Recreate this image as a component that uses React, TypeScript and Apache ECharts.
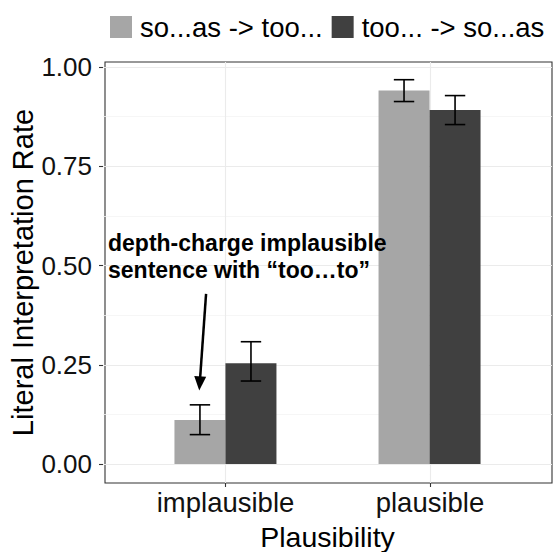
import React, { useEffect, useRef } from "react";
import * as echarts from "echarts";

// ---- data ----
const categories = ["implausible", "plausible"];
const seriesNames = ["so...as -> too...", "too... -> so...as"];
const soAsMean = [0.111, 0.941];
const soAsLower = [0.074, 0.913];
const soAsUpper = [0.149, 0.968];
const tooMean = [0.254, 0.892];
const tooLower = [0.209, 0.855];
const tooUpper = [0.308, 0.928];
const yTicksMax = 1;
const yTickStep = 0.25;
const xTitle = "Plausibility";
const yTitle = "Literal Interpretation Rate";
const annotationText = "depth-charge implausible\nsentence with \u201Ctoo\u2026to\u201D";
// arrow (data coords): start -> end
const arrowFrom = [0.905, 0.4285];
const arrowTo = [0.874, 0.203];

const FONT = '"Liberation Sans", Arial, Helvetica, sans-serif';
const COLORS = ["#A6A6A6", "#404040"];
const DODGE = 0.5; // total dodge width in category units
const CAP = 0.05; // half width of error bar caps in category units

export default function App() {
  const ref = useRef<HTMLDivElement>(null);
  useEffect(() => {
    if (!ref.current) return;
    const chart = echarts.init(ref.current, null, { renderer: "svg" });

    const errRows: number[][] = [];
    categories.forEach((_, i) => {
      errRows.push([i + 1, soAsLower[i], soAsUpper[i], 0]);
      errRows.push([i + 1, tooLower[i], tooUpper[i], 1]);
    });

    const option: any = {
      animation: false,
      textStyle: { fontFamily: FONT },
      legend: {
        left: 110,
        top: 13,
        width: 443,
        padding: 0,
        icon: "rect",
        itemWidth: 22,
        itemHeight: 22,
        itemGap: 9,
        data: seriesNames,
        textStyle: { fontSize: 27.5, color: "#000", fontFamily: FONT, padding: [0, 0, 0, 3] },
      },
      grid: [
        { left: 103, right: 1, top: 67, bottom: 88 },
        { left: 225.5, right: 123, top: 62, bottom: 69 },
        {
          left: 103, right: 1, top: 62, bottom: 69, show: true,
          borderColor: "#333333", borderWidth: 1.1, backgroundColor: "transparent",
        },
      ],
      xAxis: [
        { type: "value", gridIndex: 0, min: 0.4, max: 2.6, show: false },
        {
          type: "value", gridIndex: 1, min: 1, max: 2, interval: 1,
          axisLine: { show: false },
          axisTick: { show: true, length: 4, lineStyle: { color: "#333333", width: 1.1 } },
          axisLabel: {
            fontSize: 27.5, color: "#111", margin: 5, fontFamily: FONT,
            formatter: (v: number) => categories[Math.round(v) - 1] ?? "",
          },
          splitLine: { show: true, lineStyle: { color: "#EBEBEB", width: 1.1 } },
        },
        { type: "value", gridIndex: 2, min: 0, max: 1, show: false },
      ],
      yAxis: [
        {
          type: "value", gridIndex: 0, min: 0, max: yTicksMax, interval: yTickStep,
          axisLine: { show: false },
          axisTick: { show: true, length: 4, lineStyle: { color: "#333333", width: 1.1 } },
          axisLabel: {
            fontSize: 26, color: "#111", margin: 11, fontFamily: FONT,
            formatter: (v: number) => v.toFixed(2),
          },
          splitLine: { show: true, lineStyle: { color: "#EBEBEB", width: 1.1 } },
          minorTick: { show: false, splitNumber: 2 },
          minorSplitLine: { show: true, lineStyle: { color: "#F4F4F4", width: 0.8 } },
        },
        { type: "value", gridIndex: 1, min: 0, max: 1, show: false },
        {
          type: "value", gridIndex: 2, min: 0, max: 1, show: true,
          axisLine: { show: false }, axisTick: { show: false }, axisLabel: { show: false },
          splitLine: { show: false },
          name: yTitle, nameLocation: "middle", nameGap: 68,
          nameTextStyle: { fontSize: 29, color: "#000", fontFamily: FONT },
        },
      ],
      series: [
        {
          name: seriesNames[0], type: "bar", xAxisIndex: 0, yAxisIndex: 0,
          data: soAsMean.map((v, i) => [i + 1, v]),
          barWidth: 51, barGap: "0%", itemStyle: { color: COLORS[0] },
          clip: false,
        },
        {
          name: seriesNames[1], type: "bar", xAxisIndex: 0, yAxisIndex: 0,
          data: tooMean.map((v, i) => [i + 1, v]),
          barWidth: 51, barGap: "0%", itemStyle: { color: COLORS[1] },
          clip: false,
        },
        {
          type: "custom", xAxisIndex: 0, yAxisIndex: 0, z: 5,
          data: errRows,
          renderItem: (params: any, api: any) => {
            const off = (api.value(3) === 0 ? -1 : 1) * (DODGE / 4);
            const x = api.value(0) + off;
            const lo = api.coord([x, api.value(1)]);
            const hi = api.coord([x, api.value(2)]);
            const l = api.coord([x - CAP, api.value(1)])[0];
            const r = api.coord([x + CAP, api.value(1)])[0];
            const style = { stroke: "#000", lineWidth: 1.6 };
            return {
              type: "group",
              children: [
                { type: "line", shape: { x1: lo[0], y1: lo[1], x2: hi[0], y2: hi[1] }, style },
                { type: "line", shape: { x1: l, y1: lo[1], x2: r, y2: lo[1] }, style },
                { type: "line", shape: { x1: l, y1: hi[1], x2: r, y2: hi[1] }, style },
              ],
            };
          },
          markLine: {
            silent: true,
            symbol: ["none", "triangle"],
            symbolSize: [12, 14],
            lineStyle: { color: "#000", width: 2.5, type: "solid" },
            label: { show: false },
            emphasis: { disabled: true },
            data: [[{ coord: arrowFrom }, { coord: arrowTo }]],
          },
        },
      ],
      graphic: [
        {
          type: "text",
          left: 108,
          top: 229,
          z: 10,
          style: {
            text: annotationText,
            fontSize: 23,
            fontWeight: "bold",
            fontFamily: FONT,
            lineHeight: 27,
            fill: "#000",
          },
        },
        {
          type: "text",
          x: 327.5,
          y: 537,
          z: 10,
          style: {
            text: xTitle,
            fontSize: 28.5,
            fontFamily: FONT,
            align: "center",
            verticalAlign: "middle",
            fill: "#000",
          },
        },
      ],
    };
    chart.setOption(option);
    return () => chart.dispose();
  }, []);

  return (
    <div
      ref={ref}
      style={{ position: "fixed", left: 0, top: 0, width: 553, height: 552, background: "#fff" }}
    />
  );
}
